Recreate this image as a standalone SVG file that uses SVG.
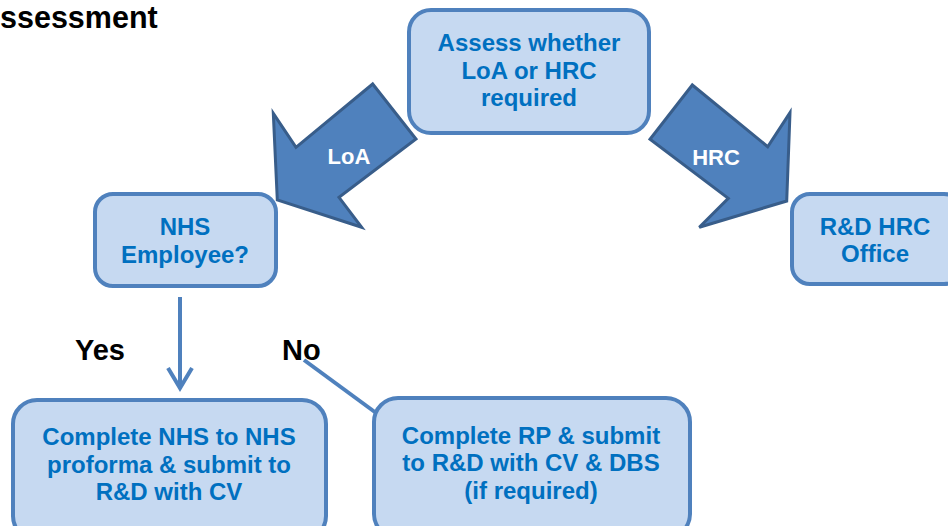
<svg xmlns="http://www.w3.org/2000/svg" width="948" height="526" viewBox="0 0 948 526">
<style>
.box{fill:#C6D9F1;stroke:#4F81BD;stroke-width:4}
.bt{font-family:"Liberation Sans",Arial,sans-serif;font-weight:bold;font-size:24px;fill:#0070C0;text-anchor:middle}
.lbl{font-family:"Liberation Sans",Arial,sans-serif;font-weight:bold;font-size:29px;fill:#000}
.title{font-size:30.5px}
.blk{fill:#4F81BD;stroke:#385D8A;stroke-width:3;stroke-linejoin:miter}
.at{font-family:"Liberation Sans",Arial,sans-serif;font-weight:bold;font-size:22px;fill:#fff;text-anchor:middle}
.ln{fill:none;stroke:#4F81BD;stroke-width:4}
</style>
<rect width="948" height="526" fill="#fff"/>
<text class="lbl title" x="0" y="28">ssessment</text>
<g id="assess">
<rect class="box" x="409" y="10" width="240" height="123" rx="22"/>
<text class="bt" x="529" y="51">Assess whether</text>
<text class="bt" x="529" y="78.5">LoA or HRC</text>
<text class="bt" x="529" y="106">required</text>
</g>
<g id="nhs-employee">
<rect class="box" x="95" y="194" width="181" height="92" rx="18"/>
<text class="bt" x="185" y="235">NHS</text>
<text class="bt" x="185" y="262.5">Employee?</text>
</g>
<g id="rd-hrc">
<rect class="box" x="792" y="194" width="170" height="90" rx="18"/>
<text class="bt" x="875" y="235">R&amp;D HRC</text>
<text class="bt" x="875" y="261.5">Office</text>
</g>
<g id="complete-nhs">
<rect class="box" x="13" y="400" width="313" height="140" rx="24"/>
<text class="bt" x="169" y="445">Complete NHS to NHS</text>
<text class="bt" x="169" y="472.5">proforma &amp; submit to</text>
<text class="bt" x="169" y="500">R&amp;D with CV</text>
</g>
<g id="complete-rp">
<rect class="box" x="374" y="398" width="316" height="140" rx="24"/>
<text class="bt" x="531" y="443.5">Complete RP &amp; submit</text>
<text class="bt" x="531" y="471">to R&amp;D with CV &amp; DBS</text>
<text class="bt" x="531" y="498.5">(if required)</text>
</g>
<g id="connectors">
<g id="arrow-loa">
<polygon class="blk" points="372.7,84 416,139 339,197.3 361.7,227.3 277.3,200 273.3,113.3 296,147.3"/>
<text class="at" x="349" y="164">LoA</text>
</g>
<g id="arrow-hrc">
<polygon class="blk" points="692.3,85 650,139.3 728.3,198.3 699.3,227.3 786.7,201 790,112.7 767.7,146.7"/>
<text class="at" x="716" y="165">HRC</text>
</g>
<g id="yes">
<path class="ln" d="M180,297 V387 M168,368 L180,388 L192,368"/>
<text class="lbl" x="75" y="360">Yes</text>
</g>
<g id="no">
<path class="ln" d="M304,360 L375.5,412.5"/>
<text class="lbl" x="282" y="360">No</text>
</g>
</g>
</svg>
